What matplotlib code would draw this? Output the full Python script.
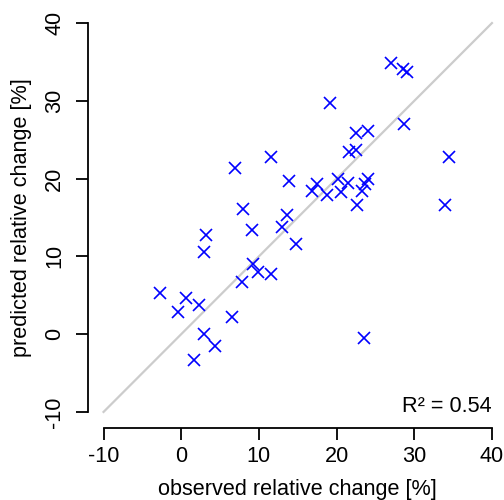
import matplotlib
matplotlib.use("Agg")
import matplotlib.pyplot as plt

# observed vs predicted relative change [%]
observed = [-2.78, -0.43, 0.57, 2.28, 2.93, 1.60, 4.39, 2.93, 3.23, 6.59,
            7.82, 7.95, 6.88, 9.24, 9.88, 11.52, 9.07, 11.52, 13.00, 13.67,
            14.74, 13.88, 16.87, 17.51, 18.74, 19.21, 20.19, 20.57, 21.48, 21.61,
            22.56, 22.47, 22.67, 23.21, 24.06, 23.70, 24.02, 23.51, 26.95, 28.49,
            29.01, 28.66, 33.94, 34.50]
predicted = [5.33, 2.89, 4.61, 3.75, -0.01, -3.32, -1.52, 10.53, 12.75, 2.17,
             6.75, 16.09, 21.32, 8.98, 8.03, 7.70, 13.33, 22.81, 13.74, 15.32,
             11.63, 19.69, 18.41, 19.37, 17.85, 29.68, 19.91, 18.28, 19.50, 23.46,
             23.68, 25.86, 16.65, 18.41, 19.91, 19.31, 26.18, -0.53, 34.90, 34.05,
             33.66, 26.98, 16.65, 22.81]
ticks = [-10, 0, 10, 20, 30, 40]
r2_label = "R² = 0.54"

plt.rcParams['font.family'] = ['Liberation Sans', 'DejaVu Sans']
plt.rcParams['axes.unicode_minus'] = False
fs = 15.6

fig = plt.figure(figsize=(5.04, 5.0), dpi=100)
ax = fig.add_axes([88 / 504, 72.5 / 500, 419.5 / 504, 420 / 500])

ax.plot([-10, 40], [-10, 40], color='#cccccc', lw=1.6, zorder=1)
ax.plot(observed, predicted, 'x', color='#0000ff', ms=8.5, mew=1.2, zorder=2)

ax.text(40, -10, r2_label, ha='right', va='baseline', fontsize=fs)

ax.set_xlim(-12, 42)
ax.set_ylim(-12, 42)
ax.set_xticks(ticks)
ax.set_yticks(ticks)
ax.set_yticklabels([str(t) for t in ticks], rotation=90, va='center')

for s in ['top', 'right']:
    ax.spines[s].set_visible(False)
for s in ['left', 'bottom']:
    ax.spines[s].set_bounds(-10, 40)
    ax.spines[s].set_linewidth(1.3)
ax.tick_params(length=8.5, width=1.3, labelsize=fs)
ax.tick_params(axis='x', pad=5)
ax.tick_params(axis='y', pad=8)

ax.set_xlabel("observed relative change [%]", fontsize=fs, labelpad=8.5)
ax.set_ylabel("predicted relative change [%]", fontsize=fs, labelpad=9)

fig.savefig("out.png", dpi=100)
